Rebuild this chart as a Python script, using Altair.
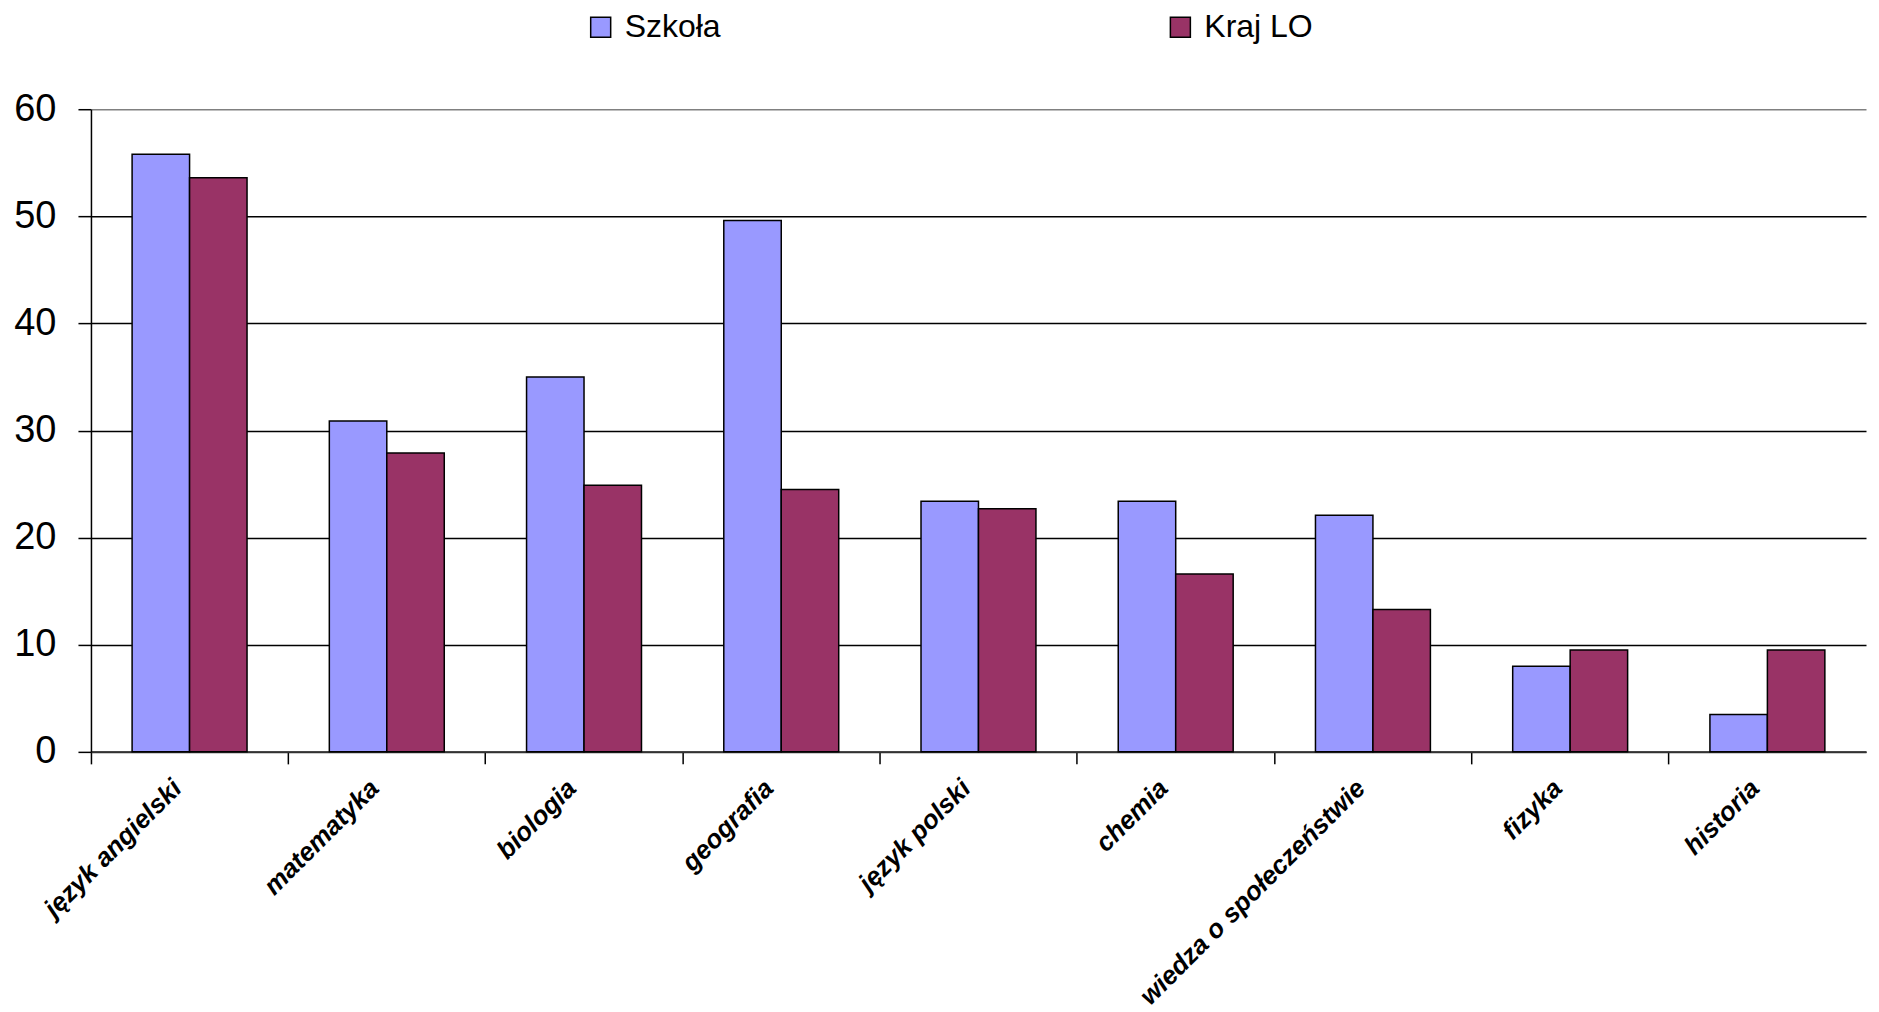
import altair as alt
import pandas as pd

categories = ["język angielski", "matematyka", "biologia", "geografia", "język polski",
              "chemia", "wiedza o społeczeństwie", "fizyka", "historia"]
series_names = ["Szkoła", "Kraj LO"]
szkola = [55.8, 30.9, 35.0, 49.6, 23.4, 23.4, 22.1, 8.0, 3.5]
kraj = [53.6, 27.9, 24.9, 24.5, 22.7, 16.6, 13.3, 9.5, 9.5]
y_ticks = [0, 10, 20, 30, 40, 50, 60]
colors = ["#9999FF", "#993366"]

rows = []
for c, a, b in zip(categories, szkola, kraj):
    rows.append({"przedmiot": c, "seria": series_names[0], "wartosc": a})
    rows.append({"przedmiot": c, "seria": series_names[1], "wartosc": b})
df = pd.DataFrame(rows)

W = 1776
H = 643

chart = alt.Chart(df).mark_bar(stroke="black", strokeWidth=1.5).encode(
    x=alt.X("przedmiot:N", sort=categories,
            scale=alt.Scale(paddingInner=0, paddingOuter=0),
            axis=alt.Axis(title=None, bandPosition=0, labelOffset=-12,
                          labelAngle=-45, labelAlign="right", labelBaseline="middle",
                          labelFont="Liberation Sans", labelFontSize=26, labelFontWeight="bold",
                          labelFontStyle="italic", labelColor="black", labelPadding=20,
                          tickSize=12, tickColor="black", tickWidth=1.5,
                          domainColor="#333333", domainWidth=2, labelLimit=500)),
    xOffset=alt.XOffset("seria:N", sort=series_names,
                        scale=alt.Scale(paddingInner=0, paddingOuter=0.716)),
    y=alt.Y("wartosc:Q", scale=alt.Scale(domain=[0, 60], nice=False),
            axis=alt.Axis(title=None, values=y_ticks, grid=True,
                          gridColor={"condition": {"test": "datum.value == 60", "value": "#808080"},
                                     "value": "#000000"},
                          gridWidth=1.5, domainColor="black", domainWidth=1.5,
                          tickColor="black", tickWidth=1.5, tickSize=13,
                          labelFont="Liberation Sans", labelFontSize=38, labelColor="black",
                          labelPadding=22)),
    color=alt.Color("seria:N", sort=series_names,
                    scale=alt.Scale(domain=series_names, range=colors),
                    legend=alt.Legend(title=None, orient="none", legendX=494, legendY=-98,
                                      direction="horizontal", symbolType="square",
                                      symbolSize=400, symbolStrokeColor="black",
                                      symbolStrokeWidth=1.5, labelFont="Liberation Sans",
                                      labelFontSize=32, labelColor="black",
                                      columnPadding=443, labelOffset=8)),
).properties(width=W, height=H, padding={"top": 3, "left": 5, "right": 5, "bottom": 5}
).configure_view(strokeWidth=0)

chart.save("out.html", embed_options={"renderer": "svg", "actions": False})
